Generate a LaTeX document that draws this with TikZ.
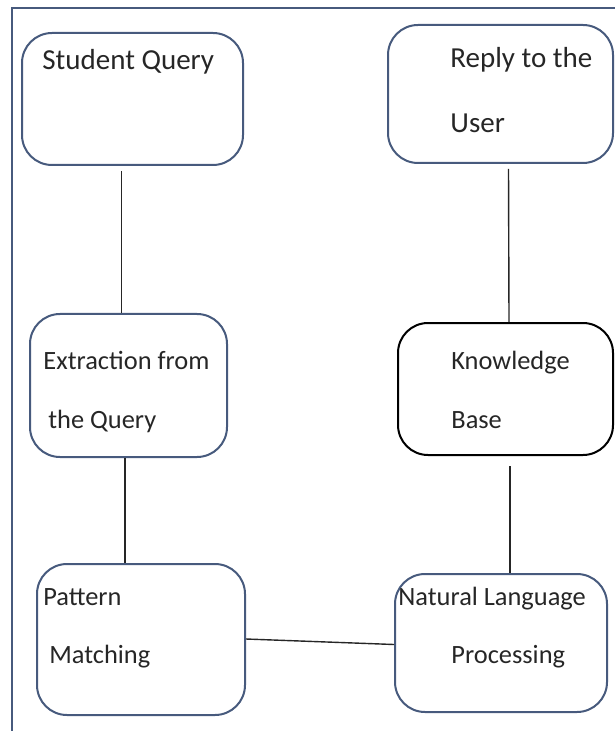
\documentclass[tikz,border=0pt]{standalone}
\usepackage{fontspec}
\setmainfont{Carlito}
\usepackage{tikz}
\usetikzlibrary{positioning, calc}
\definecolor{frameblue}{RGB}{71,90,125}
\definecolor{textgray}{RGB}{38,38,38}

\begin{document}
\begin{tikzpicture}[x=0.5pt, y=-0.5pt,
  box/.style={draw=frameblue, line width=1pt, rounded corners=15pt, inner sep=0pt},
  lbl/.style={anchor=base west, inner sep=0pt, text=textgray, font=\fontsize{13.2}{16}\selectfont},
  biglbl/.style={lbl, font=\fontsize{14.5}{17}\selectfont},
  link/.style={draw=black!85, line width=0.7pt}]
\useasboundingbox (0, 0) rectangle (615, 731);
\draw[frameblue, line width=1pt] (12, 731) -- (12, 8) -- (615, 8);
% boxes
\node[box, minimum width=110.5pt, minimum height=66pt] (query) at (132.5, 99) {};
\node[box, minimum width=112.5pt, minimum height=69pt] (reply) at (500.5, 94) {};
\node[box, minimum width=98.5pt, minimum height=71.5pt] (extract) at (128.5, 385.5) {};
\node[box, draw=black, minimum width=107.5pt, minimum height=66pt] (kbase) at (505.5, 389) {};
\node[box, minimum width=104pt, minimum height=75.5pt] (pattern) at (141, 639.5) {};
\node[box, minimum width=106pt, minimum height=69pt] (nlp) at (501, 643) {};
% texts
\node[biglbl] (t1) at (42, 70) {Student Query};
\node[biglbl] (t2) at (450, 68) {Reply to the};
\node[biglbl] (t3) at (450, 133) {User};
\node[lbl] (t4) at (43, 369) {Extraction from};
\node[lbl] (t5) at (48, 428) {the Query};
\node[lbl] (t6) at (451, 369) {Knowledge};
\node[lbl] (t7) at (451, 428) {Base};
\node[lbl] (t8) at (43, 605) {Pattern};
\node[lbl] (t9) at (49, 663) {Matching};
\node[lbl] (t10) at (398, 605) {Natural Language};
\node[lbl] (t11) at (451, 663) {Processing};
% connectors
\draw[link] ([xshift=-5.5pt, yshift=-2.5pt]query.south) -- ([xshift=-3.5pt]extract.north);
\draw[link] ([xshift=4pt, yshift=-2.5pt]reply.south) -- ([xshift=1.75pt]kbase.north);
\draw[link] ([xshift=-1.75pt]extract.south) -- ([xshift=-8pt]pattern.north);
\draw[link] ([xshift=2.25pt, yshift=-5pt]kbase.south) -- ([xshift=4.5pt]nlp.north);
\draw[link] ([yshift=0.25pt]pattern.east) -- ([yshift=-0.75pt]nlp.west);
\end{tikzpicture}
\end{document}
